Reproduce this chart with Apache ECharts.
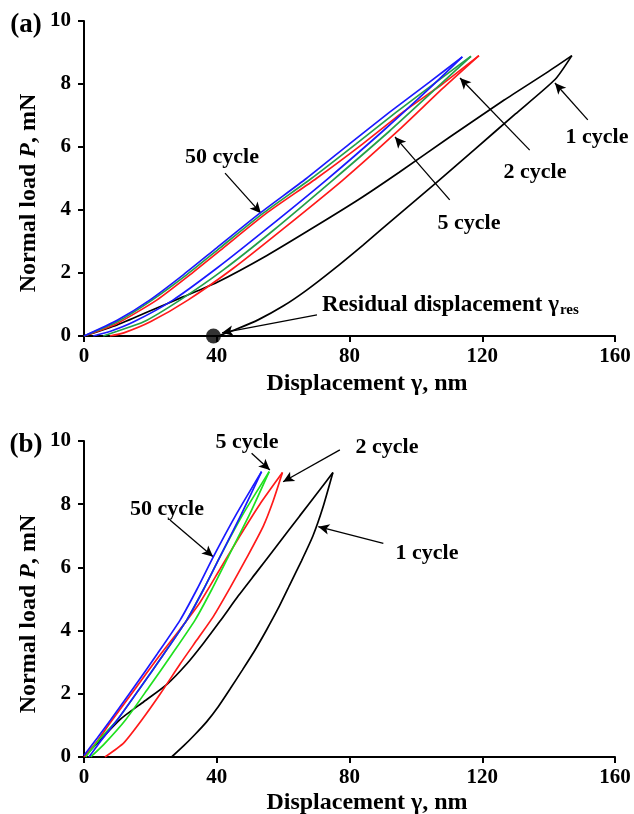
<!DOCTYPE html>
<html><head><meta charset="utf-8">
<script src="https://cdn.jsdelivr.net/npm/echarts/dist/echarts.min.js"></script>
<style>html,body{margin:0;padding:0;background:#fff}#c{width:634px;height:814px}</style>
</head><body><div id="c"></div>
<script>
// ---------- axis ticks ----------
const xTicks = [0, 40, 80, 120, 160];
const yTicks = [0, 2, 4, 6, 8, 10];

// ---------- panel (a) ----------
const a1Load   = [[0,0],[10,0.35],[20,0.8],[30,1.25],[40,1.7],[55,2.55],[70,3.5],[83,4.35],[95,5.2],[110,6.3],[126.6,7.49],[140,8.4],[147,8.9]];
const a1Unload = [[147,8.9],[142,8.15],[130,7.05],[118,5.95],[106,4.85],[95,3.87],[84,2.88],[75,2.1],[67,1.45],[60,0.95],[52.6,0.52],[46,0.22],[41,0.02]];
const a2Load   = [[7.8,0],[12,0.1],[20,0.45],[31.3,1.14],[45,2.15],[60,3.4],[78,4.95],[95,6.55],[108,7.85],[119,8.9]];
const a2Unload = [[119,8.9],[108,8.0],[96,7.1],[84,6.1],[70,5.0],[55,3.9],[42,2.8],[32,1.95],[21.9,1.14],[10,0.4],[0,0]];
const a5Load   = [[5.8,0],[10,0.15],[18,0.45],[28.9,1.14],[42,2.1],[57,3.35],[75,4.95],[92,6.5],[106,7.85],[116.6,8.88]];
const a5Unload = [[116.6,8.88],[106,8.05],[94,7.1],[82,6.1],[68.5,5.0],[54,3.9],[41,2.8],[31,1.95],[20.5,1.14],[10,0.45],[0,0]];
const a50Load  = [[2.8,0],[8,0.15],[15,0.45],[26.8,1.14],[40,2.15],[55,3.4],[73,4.95],[90,6.5],[104,7.85],[114,8.86]];
const a50Unload= [[114,8.86],[104,8.05],[92,7.1],[80,6.1],[67,5.0],[53,3.9],[40,2.8],[30,1.95],[19.8,1.14],[10,0.5],[0,0]];
const aResidual = [[39,0]];

// ---------- panel (b) ----------
const b1Load   = [[0,0],[5,0.55],[11,1.2],[18,1.75],[25,2.3],[31,2.95],[36,3.6],[41,4.3],[46.5,5.1],[52,5.85],[58,6.67],[65,7.63],[71,8.45],[75,9.0]];
const b1Unload = [[75,9.0],[72,7.9],[69,7.0],[65.5,6.2],[62,5.45],[58.5,4.7],[55,4.02],[51.5,3.38],[47.7,2.75],[44,2.15],[40.5,1.6],[37,1.12],[33.5,0.72],[30,0.35],[26.4,0]];
const b2Load   = [[6.3,0],[12,0.45],[17.4,1.17],[23,2.0],[29,2.95],[34,3.7],[39,4.45],[44,5.35],[49,6.3],[54,7.3],[57,8.1],[59.8,9.0]];
const b2Unload = [[59.8,9.0],[53,8.0],[47,7.0],[41,5.95],[35,4.9],[29,4.05],[22,3.1],[15,2.1],[8,1.1],[4,0.5],[0,0]];
const b5Load   = [[2,0],[6,0.4],[12.5,1.17],[19.5,2.2],[26.5,3.25],[33.5,4.34],[38.5,5.3],[43.5,6.34],[50,7.7],[55.8,9.03]];
const b5Unload = [[55.8,9.03],[48,7.7],[41,6.34],[36,5.3],[31,4.34],[24,3.25],[17,2.2],[10,1.17],[5,0.6],[0.5,0]];
const b50Load  = [[1.5,0],[5,0.5],[10,1.17],[17,2.2],[24,3.25],[31,4.34],[36,5.3],[41,6.34],[47.5,7.7],[53.5,9.03]];
const b50Unload= [[53.5,9.03],[46,7.7],[39,6.34],[34,5.3],[29,4.34],[22,3.25],[15,2.2],[8,1.17],[4,0.6],[0,0.05]];

// ---------- annotation arrows (data coords: from label -> tip) ----------
const aArrows = [[[42.5,5.17],[53.3,3.9]], [[134.3,5.9],[113.3,8.19]], [[151.8,6.86],[141.9,8.03]], [[110.2,4.32],[93.7,6.32]], [[70.2,0.67],[41.6,0.1]]];
const bArrows = [[[50.5,9.61],[56.0,9.08]], [[25.9,7.5],[38.9,6.34]], [[77.1,9.72],[60.0,8.71]], [[90.2,6.76],[70.6,7.29]]];

const FONT = '"Liberation Serif","Times New Roman",serif';
const BLUE = '#1a1aff', RED = '#ff1a1a', GREENA = '#24a04a', GREENB = '#1fe01f', BLACK = '#000';

function xAx(gi){
  return {type:'value', gridIndex:gi, min:xTicks[0], max:xTicks[xTicks.length-1], interval:xTicks[1]-xTicks[0],
    axisLine:{show:true, onZero:false, lineStyle:{color:'#000', width:2}},
    axisTick:{show:true, length:6, lineStyle:{color:'#000', width:2}},
    axisLabel:{show:true, fontFamily:FONT, fontWeight:'bold', fontSize:21, color:'#000', margin:10},
    splitLine:{show:false}};
}
function yAx(gi){
  return {type:'value', gridIndex:gi, min:yTicks[0], max:yTicks[yTicks.length-1], interval:yTicks[1]-yTicks[0],
    axisLine:{show:true, onZero:false, lineStyle:{color:'#000', width:2}},
    axisTick:{show:true, length:6, lineStyle:{color:'#000', width:2}},
    axisLabel:{show:true, fontFamily:FONT, fontWeight:'bold', fontSize:21, color:'#000', margin:13},
    splitLine:{show:false}};
}
function ln(gi, data, color, z){
  return {type:'line', xAxisIndex:gi, yAxisIndex:gi, data:data, showSymbol:false, symbol:'none', smooth:0.2,
    lineStyle:{color:color, width:1.7}, z:z||2, silent:true};
}
function arrowML(list){
  return {silent:true, symbol:['none','arrow'], symbolSize:[8,11], animation:false,
    lineStyle:{color:'#000', width:1.3, type:'solid'}, label:{show:false}, emphasis:{disabled:true},
    data:list.map(p => [{coord:p[0]},{coord:p[1]}])};
}

const txt = (s, x, y, size, align) => ({type:'text', x:x, y:y, silent:true, z:100,
  style:{text:s, fill:'#000', fontFamily:FONT, fontWeight:'bold', fontSize:size||22,
    textAlign:align||'center', align:align||'center', textVerticalAlign:'middle', verticalAlign:'middle'}});

const yTitle = (y) => ({type:'text', x:29, y:y, rotation:Math.PI/2, silent:true, z:100,
  style:{text:'{a|Normal load }{i|P}{a|, mN}', fill:'#000', textAlign:'center', align:'center', textVerticalAlign:'middle', verticalAlign:'middle',
    rich:{a:{fontFamily:FONT, fontWeight:'bold', fontSize:24, fill:'#000', color:'#000'},
          i:{fontFamily:FONT, fontWeight:'bold', fontStyle:'italic', fontSize:24, fill:'#000', color:'#000'}}}});

const xTitle = (y) => ({type:'text', x:367, y:y, silent:true, z:100,
  style:{text:'Displacement γ, nm', fill:'#000', fontFamily:FONT, fontWeight:'bold', fontSize:24,
    textAlign:'center', align:'center', textVerticalAlign:'middle', verticalAlign:'middle'}});

const chart = echarts.init(document.getElementById('c'), null, {renderer:'canvas'});
chart.setOption({
  animation:false,
  backgroundColor:'#fff',
  grid:[
    {left:84, top:21, width:531, height:315, containLabel:false, outerBoundsMode:'none'},
    {left:84, top:441, width:531, height:316, containLabel:false, outerBoundsMode:'none'}
  ],
  xAxis:[xAx(0), xAx(1)],
  yAxis:[yAx(0), yAx(1)],
  series:[
    Object.assign(ln(0, a1Load, BLACK, 2), {markLine:arrowML(aArrows)}),
    ln(0, a1Unload, BLACK, 2),
    ln(0, a2Load, RED, 3), ln(0, a2Unload, RED, 3),
    ln(0, a5Load, GREENA, 4), ln(0, a5Unload, GREENA, 4),
    ln(0, a50Load, BLUE, 5), ln(0, a50Unload, BLUE, 5),
    {type:'scatter', xAxisIndex:0, yAxisIndex:0, data:aResidual, symbol:'circle', symbolSize:15,
      itemStyle:{color:'#000'}, clip:false, z:20, silent:true},
    Object.assign(ln(1, b1Load, BLACK, 2), {markLine:arrowML(bArrows)}),
    ln(1, b1Unload, BLACK, 2),
    ln(1, b2Load, RED, 3), ln(1, b2Unload, RED, 3),
    ln(1, b5Load, GREENB, 4), ln(1, b5Unload, GREENB, 4),
    ln(1, b50Load, BLUE, 5), ln(1, b50Unload, BLUE, 5)
  ],
  graphic:[
    txt('(a)', 26, 25, 27), txt('(b)', 26, 445, 27),
    yTitle(193), yTitle(614),
    xTitle(384), xTitle(803),
    txt('50 cycle', 222, 157), txt('2 cycle', 535, 172), txt('1 cycle', 597, 137), txt('5 cycle', 469, 223),
    {type:'text', x:322, y:305, silent:true, z:100,
      style:{text:'{a|Residual displacement γ}{s|res}', textAlign:'left', align:'left', textVerticalAlign:'middle', verticalAlign:'middle',
        rich:{a:{fontFamily:FONT, fontWeight:'bold', fontSize:23, lineHeight:26, fill:'#000', color:'#000'},
              s:{fontFamily:FONT, fontWeight:'bold', fontSize:15, lineHeight:15, verticalAlign:'bottom', fill:'#000', color:'#000', padding:[9,0,0,1]}}}},
    txt('5 cycle', 247, 442), txt('50 cycle', 167, 509), txt('2 cycle', 387, 447), txt('1 cycle', 427, 553)
  ]
});
</script></body></html>
